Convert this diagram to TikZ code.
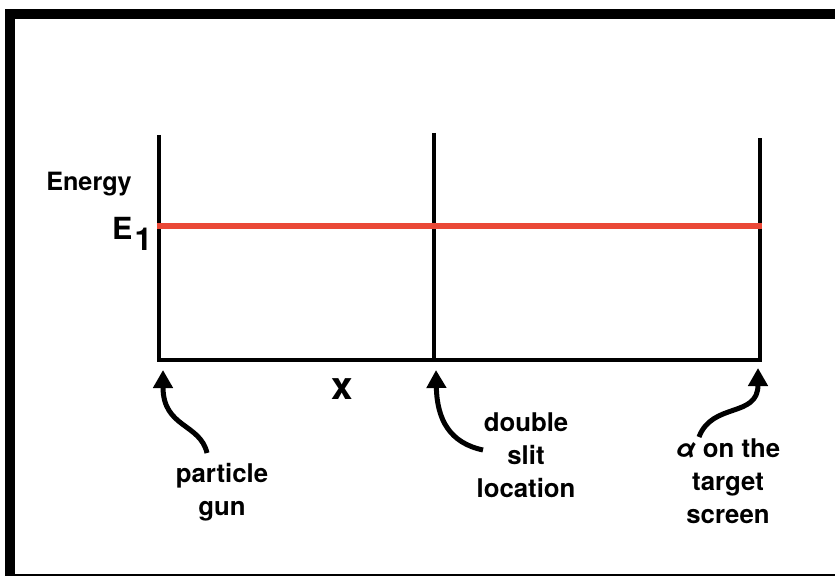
\documentclass[tikz,border=0pt]{standalone}
\usepackage{fontspec}
\setmainfont{TeX Gyre Heros}
\usetikzlibrary{arrows.meta}
\definecolor{levelred}{RGB}{234,72,55}
\tikzstyle{frame} = [
    line width=3mm,
    draw=black
]
\tikzstyle{wall} = [
    line width=1.2mm,
    draw=black
]
\tikzstyle{level} = [
    line width=1.8mm,
    draw=levelred
]
\tikzstyle{label} = [
    inner sep=0pt,
    align=center,
    anchor=base,
    font=\bfseries\fontsize{22}{28}\selectfont
]
\tikzstyle{arrow} = [line width=1.5mm, -{Triangle[length=5.4mm, width=5.7mm]}]

\begin{document}
\begin{tikzpicture}[x=0.3mm, y=-0.3mm]

\useasboundingbox (0,0) rectangle (835,576);
\clip (0,0) rectangle (835,576);

\draw [frame] (10,14) rectangle (850,579);

% axes and the three walls
\coordinate (gunTop) at (159,135);
\coordinate (gunBot) at (159,360);
\coordinate (slitTop) at (434,133);
\coordinate (slitBot) at (434,360);
\coordinate (screenTop) at (760,138);
\coordinate (screenBot) at (760,360);

\draw [wall] (gunTop) -- (gunBot) -- (screenBot) -- (screenTop);
\draw [wall] (slitTop) -- (slitBot);

\coordinate (levelL) at (157,226);
\coordinate (levelR) at (762,226);
\draw [level] (levelL) -- (levelR);

\node (energy) [label, font=\bfseries\fontsize{21.5}{26}\selectfont] at (89,191) {Energy};
\node (eone) [label, anchor=base west, font=\bfseries\fontsize{26}{30}\selectfont]
    at (112,239) {E\kern0.6mm\raisebox{-3.4mm}{\fontsize{27}{30}\selectfont 1}};
\node (xlab) [label, font=\bfseries\fontsize{33}{36}\selectfont] at (342,399) {x};

% labels (base is the last line)
\node (gun) [label] at (222,515) {particle\\gun};
\node (slit) [label] at (526,497) {double\\slit\\location};
\node (target) [label] at (728,523) {{\itshape α} on the\\target\\screen};

% arrows up to the axis
\coordinate (gunTail) at (207,453);
\coordinate (gunTip) at (163,370);
\coordinate (slitTail) at (483,450);
\coordinate (slitTip) at (436,370);
\coordinate (targetTail) at (699,437);
\coordinate (targetTip) at (758,368);

\draw [arrow] (gunTail) .. controls (200,423) and (163,428) .. (gunTip);
\draw [arrow] (slitTail) .. controls (450,443) and (437,420) .. (slitTip);
\draw [arrow] (targetTail) .. controls (712,402) and (758,418) .. (targetTip);

\end{tikzpicture}
\end{document}
